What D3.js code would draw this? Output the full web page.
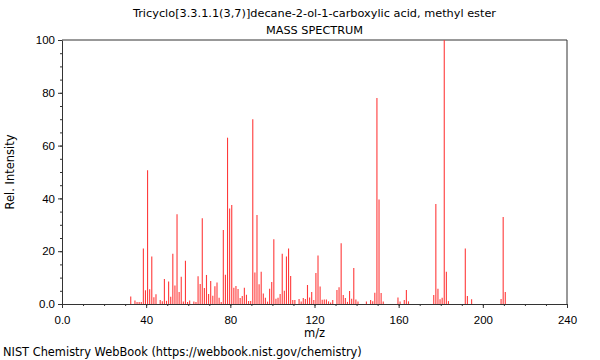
<!DOCTYPE html>
<html>
<head>
<meta charset="utf-8">
<script src="https://cdn.jsdelivr.net/npm/d3@7"></script>
<style>
  body { margin: 0; background: #fff; }
  svg { font-family: "DejaVu Sans", sans-serif; }
  .axis path, .axis line { stroke: #333; }
  .axis text { fill: #000; font-size: 11.5px; }
</style>
</head>
<body>
<svg width="600" height="360"></svg>
<script>
const mz = [33, 35, 36, 37, 38, 39, 40, 41, 42, 43, 44, 45, 47, 48, 49, 50, 51, 52, 53, 54,
  55, 56, 57, 58, 59, 60, 61, 63, 64, 65, 66, 67, 68, 69, 70, 71, 72, 73, 74, 75,
  76, 77, 78, 79, 80, 81, 82, 83, 84, 85, 86, 87, 88, 89, 90, 91, 92, 93, 94, 95,
  96, 97, 98, 99, 100, 101, 102, 103, 104, 105, 106, 107, 108, 109, 110, 111, 113, 114, 115, 116,
  117, 118, 119, 120, 121, 122, 123, 124, 125, 126, 127, 128, 129, 131, 132, 133, 134, 135, 136, 137,
  138, 139, 140, 141, 145, 147, 148, 149, 150, 151, 152, 153, 160, 161, 163, 164, 165, 177, 178, 179,
  180, 181, 182, 183, 184, 192, 193, 195, 209, 210, 211];
const intensity = [2.8, 1.3, 0.8, 0.8, 0.8, 21, 5.2, 50.7, 5.6, 18, 2.6, 3.7, 1.5, 1, 9.5, 1.2, 8.5, 2.7, 19, 7,
  34, 4.5, 10.3, 0.9, 16.4, 0.8, 1.3, 0.9, 0.8, 10.5, 7.6, 32.5, 6.1, 11, 3.8, 8.7, 3.1, 6.7, 8.1, 2.4,
  0.8, 28, 11.1, 63, 36.2, 37.5, 6.2, 6.8, 5.7, 2.3, 3, 6.2, 3.5, 1.1, 1.1, 70, 11.9, 33.7, 7.5, 12.2,
  4, 2.4, 0.9, 5.8, 8.3, 24.5, 2, 2.4, 3.8, 19, 5, 18, 21, 10.6, 1.5, 1.5, 1.9, 0.9, 2.3, 1.9,
  7.2, 2.5, 4.5, 1.5, 11.7, 18.4, 6.6, 1.6, 1.7, 1.7, 1, 0.6, 1.5, 5.3, 6.3, 23, 3.4, 2.3, 0.8, 4.9,
  2, 13.6, 1.7, 0.9, 0.9, 1.5, 1, 4.3, 78, 39.6, 4.2, 0.9, 2.5, 0.9, 1.5, 5.3, 1, 3.4, 37.9, 5.8,
  1.8, 2.4, 100, 12.2, 1.1, 21, 3, 1.8, 1.9, 33, 4.5];
const xTicks = [0, 40, 80, 120, 160, 200, 240];
const yTicks = [0, 20, 40, 60, 80, 100];

const titulo = "Tricyclo[3.3.1.1(3,7)]decane-2-ol-1-carboxylic acid, methyl ester";

const margin = { top: 40, right: 33, bottom: 56, left: 62 };
const width = 600 - margin.left - margin.right;
const height = 360 - margin.top - margin.bottom;

const svg = d3.select("svg");
const g = svg.append("g")
  .attr("transform", "translate(" + margin.left + "," + margin.top + ")");

const x = d3.scaleLinear().domain([0, 240]).range([0, width]);
const y = d3.scaleLinear().domain([0, 100]).range([height, 0]);

const fmt = d => d === 0 ? "0.0" : d3.format("d")(d);

// ticks menores
g.append("g")
  .attr("class", "axis")
  .attr("transform", "translate(0," + height + ")")
  .call(d3.axisBottom(x).tickValues(d3.range(0, 241, 10)).tickSize(2).tickFormat(""))
  .select(".domain").remove();
g.append("g")
  .attr("class", "axis")
  .call(d3.axisLeft(y).tickValues(d3.range(0, 101, 5)).tickSize(2).tickFormat(""))
  .select(".domain").remove();

// ejes principales
g.append("g")
  .attr("class", "axis")
  .attr("transform", "translate(0," + height + ")")
  .call(d3.axisBottom(x).tickValues(xTicks).tickSize(4).tickSizeOuter(0).tickFormat(fmt))
  .selectAll("text").attr("dy", "1.1em");
g.append("g")
  .attr("class", "axis")
  .call(d3.axisLeft(y).tickValues(yTicks).tickSize(4).tickSizeOuter(0).tickFormat(fmt));

// marco
g.append("path")
  .attr("d", "M0,0H" + width + "V" + height)
  .attr("fill", "none")
  .attr("stroke", "#333");

// barras
g.selectAll(".bar")
  .data(mz)
  .enter().append("line")
  .attr("class", "bar")
  .attr("x1", d => x(d) - 0.7)
  .attr("x2", d => x(d) - 0.7)
  .attr("y1", y(0))
  .attr("y2", (d, i) => y(intensity[i]))
  .attr("stroke", "#ff3a3a")
  .attr("stroke-width", 1.1);

// textos
svg.append("text").attr("x", margin.left + width / 2).attr("y", 17)
  .attr("text-anchor", "middle").attr("font-size", 11.3).text(titulo);
svg.append("text").attr("x", margin.left + width / 2).attr("y", 34)
  .attr("text-anchor", "middle").attr("font-size", 11.3).text("MASS SPECTRUM");
svg.append("text").attr("x", margin.left + width / 2).attr("y", 337)
  .attr("text-anchor", "middle").attr("font-size", 11.5).text("m/z");
svg.append("text")
  .attr("transform", "translate(14," + (margin.top + height / 2) + ") rotate(-90)")
  .attr("text-anchor", "middle").attr("font-size", 11.5).text("Rel. Intensity");
svg.append("text").attr("x", 3).attr("y", 356)
  .attr("font-size", 11.4).text("NIST Chemistry WebBook (https://webbook.nist.gov/chemistry)");
</script>
</body>
</html>
